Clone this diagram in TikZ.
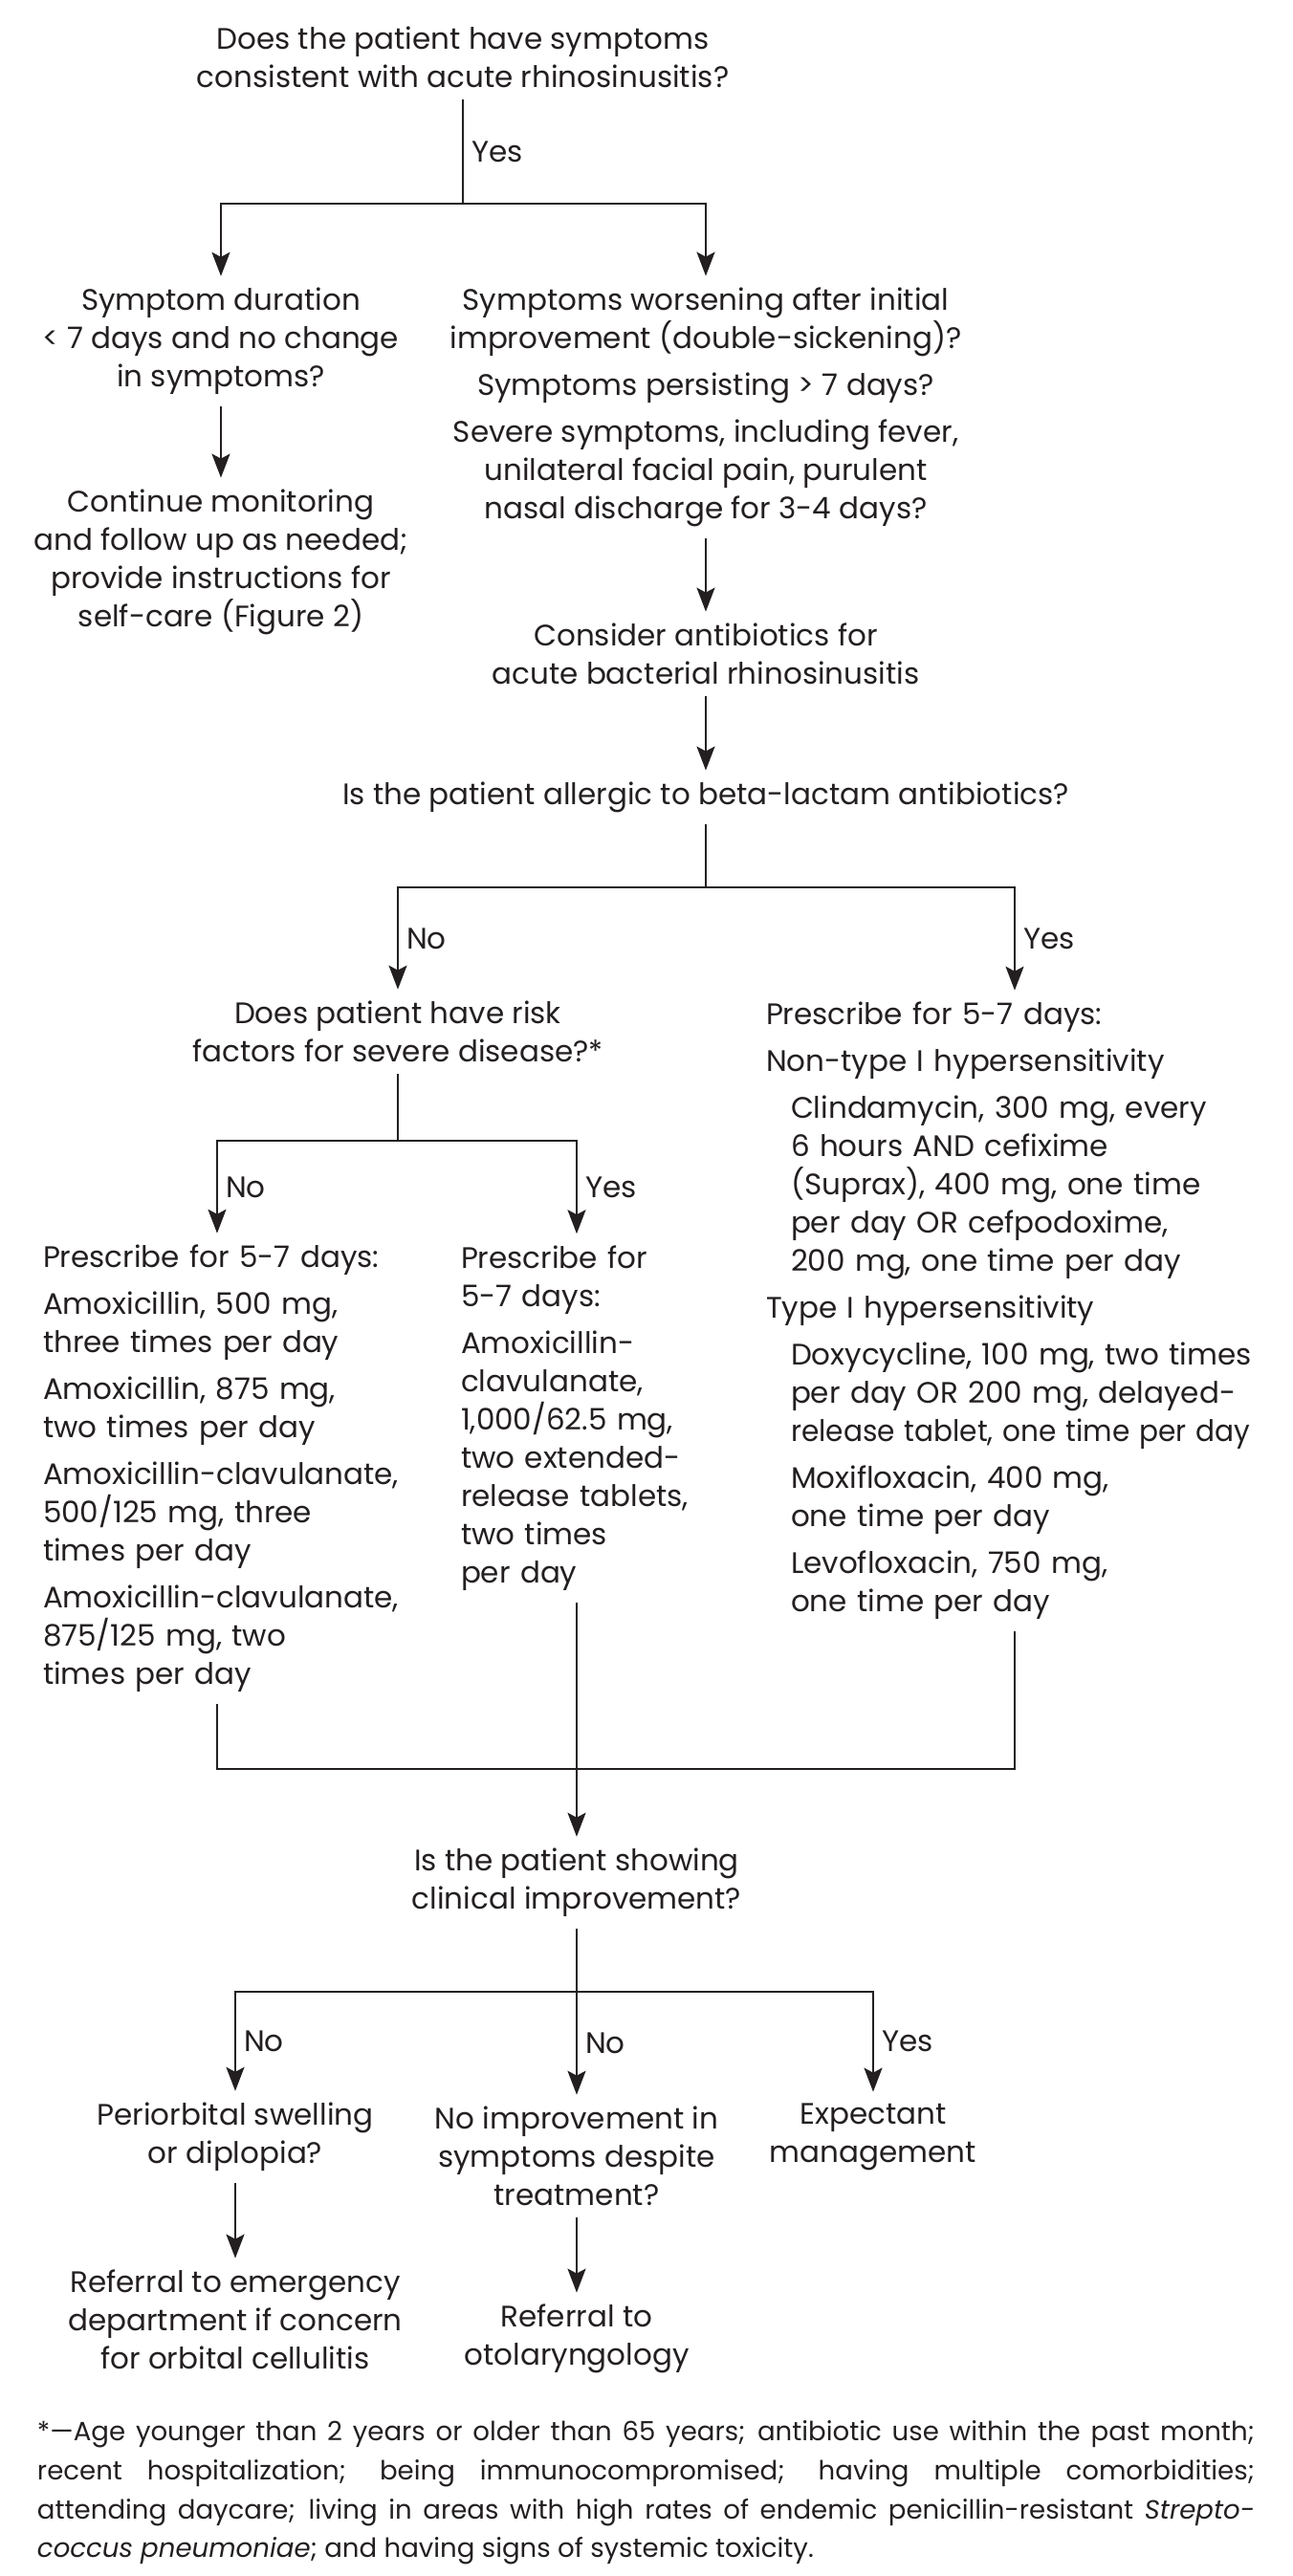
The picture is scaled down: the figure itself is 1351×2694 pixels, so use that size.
\documentclass[tikz,border=0pt]{standalone}
\usepackage{fontspec}
\usepackage{graphicx}
\setmainfont{Poppins}
\usetikzlibrary{arrows.meta}
\definecolor{ink}{HTML}{231F20}
\pgfdeclarelayer{bg}
\pgfsetlayers{bg,main}
\tikzstyle{q}=[align=center, inner sep=6pt, text=ink, font=\fontsize{15.5}{20}\selectfont]
\tikzstyle{col}=[align=left, inner sep=6pt, text=ink, font=\fontsize{15.5}{20}\selectfont,
  execute at begin node={\exhyphenpenalty=10000\hyphenpenalty=10000}]
\tikzstyle{lbl}=[right, inner sep=4pt, text=ink, font=\fontsize{15.5}{20}\selectfont]
\tikzstyle{wire}=[-, line width=1pt, draw=ink]
\tikzstyle{arr}=[wire, -{Stealth[length=12.5pt, width=9.5pt, inset=2.5pt]}]
\newcommand{\ind}{\hspace*{13pt}}

\begin{document}
\begin{tikzpicture}[x=0.5pt, y=-0.5pt]
    \useasboundingbox (0, 0) rectangle (1351, 2694);

    \node [q] (top) at (484, 60) {Does the patient have symptoms\\consistent with acute rhinosinusitis?};
    \coordinate (j0) at (484, 213);
    \node [q] (dur) at (231, 357) {Symptom duration\\< 7 days and no change\\in symptoms?};
    \node [q] (mon) at (231, 588) {Continue monitoring\\and follow up as needed;\\provide instructions for\\self-care (Figure 2)};
    \node [q] (wor) at (738, 426) {Symptoms worsening after initial\\improvement (double-sickening)?\\[4.5pt]
        Symptoms persisting > 7 days?\\[4.5pt]
        Severe symptoms, including fever,\\unilateral facial pain, purulent\\nasal discharge for 3-4 days?};
    \node [q] (abx) at (738, 684) {Consider antibiotics for\\acute bacterial rhinosinusitis};
    \node [q] (alg) at (738, 834) {Is the patient allergic to beta-lactam antibiotics?};
    \coordinate (j2) at (738, 928);

    \node [q] (risk) at (416, 1079) {Does patient have risk\\factors for severe disease?*};
    \coordinate (j3) at (416, 1193);

    \node [col, text width=260pt] (nall) at (1061, 1371) {Prescribe for 5-7 days:\\[4.5pt]
        Non-type I hypersensitivity\\[4.5pt]
        \ind Clindamycin, 300 mg, every\\\ind 6 hours AND cefixime\\\ind (Suprax), 400 mg, one time\\\ind per day OR cefpodoxime,\\\ind 200 mg, one time per day\\[4.5pt]
        Type I hypersensitivity\\[4.5pt]
        \ind Doxycycline, 100 mg, two times\\\ind per day OR 200 mg, delayed-\\\ind \scalebox{0.955}[1]{release tablet, one time per day}\\[4.5pt]
        \ind Moxifloxacin, 400 mg,\\\ind one time per day\\[4.5pt]
        \ind Levofloxacin, 750 mg,\\\ind one time per day};

    \node [col, text width=182pt] (colL) at (227, 1536) {Prescribe for 5-7 days:\\[4.5pt]
        Amoxicillin, 500 mg,\\three times per day\\[4.5pt]
        Amoxicillin, 875 mg,\\two times per day\\[4.5pt]
        Amoxicillin-clavulanate,\\500/125 mg, three\\times per day\\[4.5pt]
        Amoxicillin-clavulanate,\\875/125 mg, two\\times per day};

    \node [col, text width=121pt] (colM) at (603, 1483) {Prescribe for\\5-7 days:\\[4.5pt]
        Amoxicillin-\\clavulanate,\\1,000/62.5 mg,\\two extended-\\release tablets,\\two times\\per day};
    \coordinate (j4) at (603, 1850);

    \node [q] (imp) at (603, 1969) {Is the patient showing\\clinical improvement?};
    \coordinate (j5) at (603, 2083);
    \node [q] (orb) at (246, 2235) {Periorbital swelling\\or diplopia?};
    \node [q] (noimp) at (603, 2255) {No improvement in\\symptoms despite\\treatment?};
    \node [q] (expm) at (913, 2235) {Expectant\\management};
    \node [q] (er) at (246, 2426) {Referral to emergency\\department if concern\\for orbital cellulitis};
    \node [q] (ent) at (603, 2446) {Referral to\\otolaryngology};

    \node [text width=636.5pt, align=justify, inner sep=0pt, text=ink, font=\fontsize{13.8}{20.3}\selectfont] (fn) at (675.5, 2607)
        {*—Age younger than 2 years or older than 65 years; antibiotic use within the past month;\linebreak
        recent hospitalization; being immunocompromised; having multiple comorbidities;\linebreak
        attending daycare; living in areas with high rates of endemic penicillin-resistant \textit{Strepto-}\linebreak
        \textit{coccus pneumoniae}; and having signs of systemic toxicity.};

    \begin{pgfonlayer}{bg}
        \fill [white] (0, 0) rectangle (1351, 2694);
        \draw [wire] (top) -- node [lbl] {Yes} (j0);
        \draw [arr] (j0) -| (dur);
        \draw [arr] (j0) -| (wor);
        \draw [arr] (dur) -- (mon);
        \draw [arr] (wor) -- (abx);
        \draw [arr] (abx) -- (alg);
        \draw [wire] (alg) -- (j2);
        \draw [arr] (j2) -| node [lbl, pos=0.75] {No} (risk);
        \draw [arr] (j2) -| node [lbl, pos=0.75] {Yes} (nall);
        \draw [wire] (risk) -- (j3);
        \draw [arr] (j3) -| node [lbl, pos=0.75] {No} (colL);
        \draw [arr] (j3) -| node [lbl, pos=0.75] {Yes} (colM);
        \draw [wire] (colL) |- (j4) -| (nall);
        \draw [arr] (colM) -- (imp);
        \draw [wire] (imp) -- (j5);
        \draw [arr] (j5) -| node [lbl, pos=0.75] {No} (orb);
        \draw [arr] (j5) -- node [lbl] {No} (noimp);
        \draw [arr] (j5) -| node [lbl, pos=0.75] {Yes} (expm);
        \draw [arr] (orb) -- (er);
        \draw [arr] (noimp) -- (ent);
    \end{pgfonlayer}
\end{tikzpicture}
\end{document}
